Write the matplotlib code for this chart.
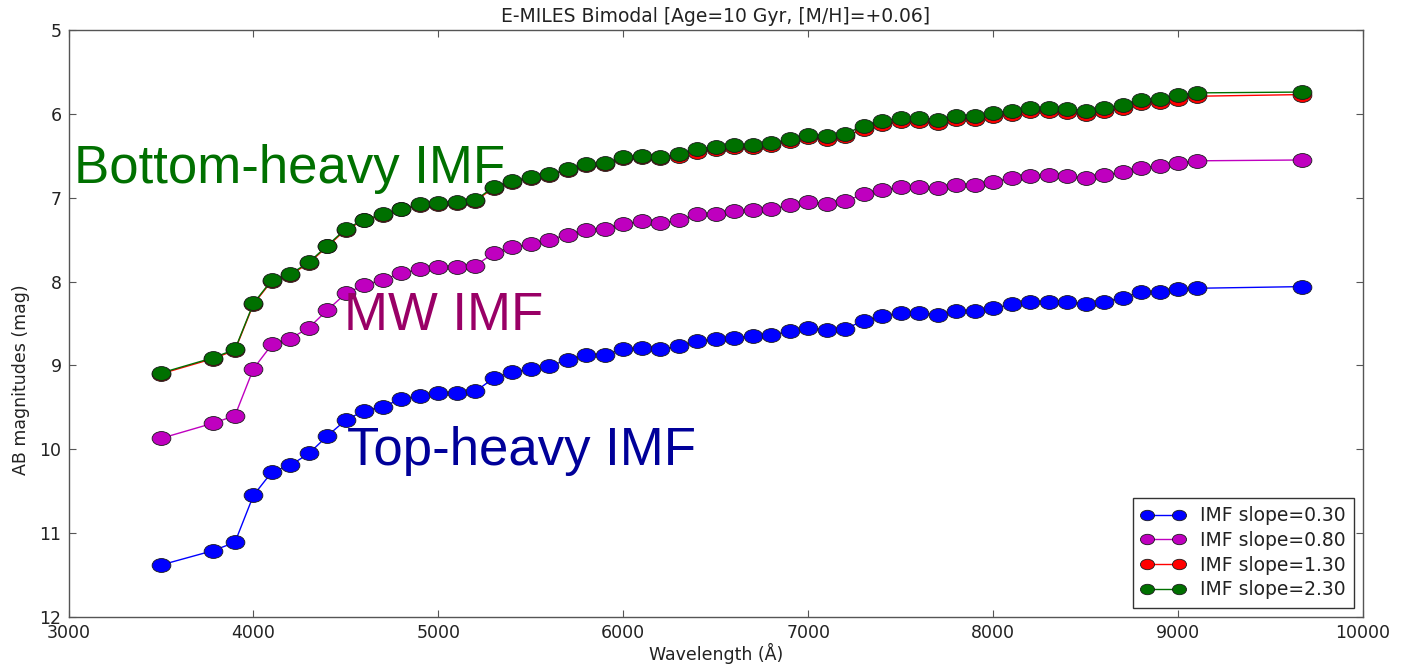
"""Broad-band AB magnitudes of E-MILES bimodal SSPs for several IMF slopes."""

import matplotlib

matplotlib.use("Agg")
import matplotlib.pyplot as plt
from matplotlib.path import Path
from matplotlib.transforms import Affine2D

# Effective wavelengths of the filters (Angstrom)
wavelength = [3500, 3780, 3900] + list(range(4000, 9101, 100)) + [9670]

mag_slope_030 = [
    11.38, 11.21, 11.11,
    10.55, 10.27, 10.19, 10.05, 9.84, 9.65, 9.54, 9.49, 9.40, 9.36,
    9.33, 9.33, 9.31, 9.15, 9.08, 9.04, 9.01, 8.93, 8.87, 8.87,
    8.81, 8.79, 8.81, 8.77, 8.71, 8.69, 8.67, 8.65, 8.64, 8.59,
    8.55, 8.58, 8.56, 8.47, 8.41, 8.37, 8.37, 8.40, 8.35, 8.35,
    8.32, 8.27, 8.24, 8.24, 8.24, 8.27, 8.24, 8.19, 8.13, 8.12,
    8.09, 8.08,
    8.06,
]
mag_slope_080 = [
    9.87, 9.69, 9.60,
    9.04, 8.75, 8.68, 8.55, 8.34, 8.14, 8.04, 7.98, 7.90, 7.85,
    7.83, 7.83, 7.81, 7.66, 7.59, 7.55, 7.50, 7.44, 7.38, 7.37,
    7.31, 7.28, 7.30, 7.27, 7.20, 7.19, 7.16, 7.15, 7.13, 7.09,
    7.05, 7.07, 7.04, 6.96, 6.91, 6.87, 6.87, 6.89, 6.85, 6.85,
    6.81, 6.76, 6.74, 6.73, 6.74, 6.77, 6.73, 6.69, 6.64, 6.62,
    6.59, 6.56,
    6.55,
]
mag_slope_130 = [
    9.10, 8.92, 8.82,
    8.27, 7.99, 7.92, 7.78, 7.58, 7.38, 7.27, 7.21, 7.14, 7.09,
    7.07, 7.06, 7.04, 6.88, 6.81, 6.76, 6.73, 6.67, 6.61, 6.60,
    6.53, 6.51, 6.53, 6.50, 6.45, 6.42, 6.40, 6.40, 6.37, 6.32,
    6.28, 6.30, 6.27, 6.18, 6.12, 6.09, 6.09, 6.11, 6.06, 6.06,
    6.03, 6.00, 5.97, 5.97, 5.98, 6.00, 5.97, 5.93, 5.87, 5.86,
    5.82, 5.79,
    5.77,
]
mag_slope_230 = [
    9.09, 8.91, 8.81,
    8.26, 7.98, 7.91, 7.77, 7.57, 7.37, 7.26, 7.20, 7.13, 7.08,
    7.06, 7.05, 7.03, 6.87, 6.80, 6.75, 6.72, 6.66, 6.60, 6.59,
    6.52, 6.50, 6.52, 6.48, 6.42, 6.39, 6.37, 6.37, 6.35, 6.30,
    6.25, 6.26, 6.24, 6.14, 6.08, 6.05, 6.05, 6.07, 6.02, 6.02,
    5.99, 5.96, 5.93, 5.93, 5.94, 5.96, 5.93, 5.89, 5.83, 5.82,
    5.78, 5.75,
    5.74,
]

slope_labels = ["IMF slope=0.30", "IMF slope=0.80", "IMF slope=1.30", "IMF slope=2.30"]
slope_colors = ["#0000ff", "#bf00bf", "#ff0000", "#007000"]

# slightly wide ellipse used as the point marker
oval = Path.unit_circle().transformed(Affine2D().scale(1.0, 0.74))

fig = plt.figure(figsize=(14.04, 6.66), dpi=100)
ax = fig.add_axes([68.5 / 1404, 1 - 617 / 666, (1363 - 68.5) / 1404, (617 - 30) / 666])

for mags, label, color in zip(
    [mag_slope_030, mag_slope_080, mag_slope_130, mag_slope_230], slope_labels, slope_colors
):
    ax.plot(
        wavelength, mags, color=color, linewidth=1.0, marker=oval, markersize=13.5,
        markerfacecolor=color, markeredgecolor="#1a1a1a", markeredgewidth=0.6, label=label,
    )

ax.set_xlim(3000, 10000)
ax.set_ylim(12, 5)
ax.set_xticks(range(3000, 10001, 1000))
ax.set_yticks(range(5, 13))
ax.tick_params(direction="in", top=True, right=True, length=5, width=0.8,
               color="#555555", labelsize=12.5, labelcolor="#222222", pad=5)
for spine in ax.spines.values():
    spine.set_color("#555555")
    spine.set_linewidth(1.0)

ax.set_title("E-MILES Bimodal [Age=10 Gyr, [M/H]=+0.06]", fontsize=13.5, color="#222222", pad=6)
ax.set_xlabel("Wavelength (Å)", fontsize=12.5, color="#222222", labelpad=1)
ax.set_ylabel("AB magnitudes (mag)", fontsize=12.5, color="#222222",
              family=["Liberation Sans Narrow", "DejaVu Sans"])
ax.yaxis.set_label_coords(-0.0297, 0.404)

label_font = ["Liberation Sans", "DejaVu Sans"]
ax.text(3030, 6.83, "Bottom-heavy IMF", color="#007000", fontsize=38, family=label_font)
ax.text(4490, 8.58, "MW IMF", color="#990066", fontsize=38, family=label_font)
ax.text(4505, 10.19, "Top-heavy IMF", color="#000099", fontsize=38, family=label_font)

legend = ax.legend(loc="lower right", numpoints=2, fontsize=13.5, markerscale=0.75,
                   fancybox=False, framealpha=1.0, edgecolor="#333333",
                   handlelength=2.3, handletextpad=0.8, labelspacing=0.3,
                   borderaxespad=0.5, borderpad=0.45)
for text in legend.get_texts():
    text.set_color("#222222")

fig.savefig("out.png", dpi=100)
